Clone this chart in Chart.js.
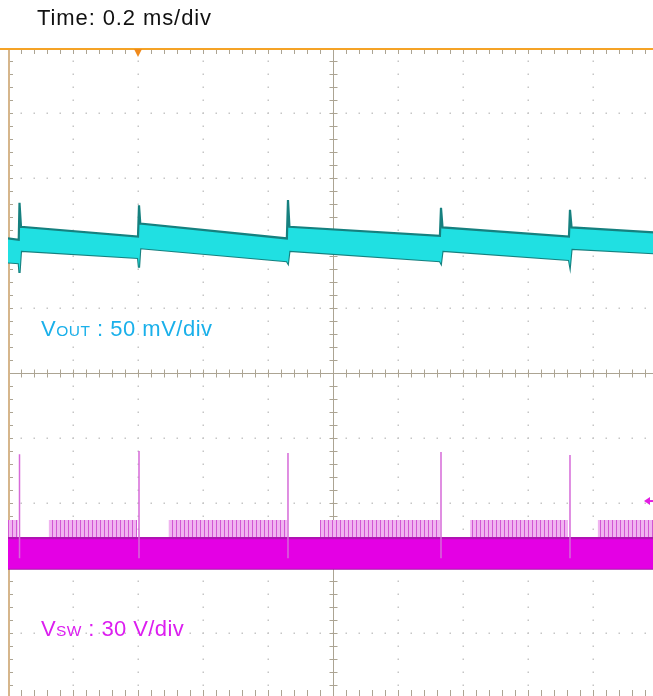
<!DOCTYPE html>
<html><head><meta charset="utf-8">
<script src="https://cdn.jsdelivr.net/npm/chart.js@4.4.1/dist/chart.umd.min.js"></script>
<style>
html,body{margin:0;padding:0;background:#fff;overflow:hidden;width:653px;height:696px;}
#wrap{position:absolute;left:0;top:0;width:658px;height:698px;}
.lbl{position:absolute;font-family:"Liberation Sans",Arial,sans-serif;white-space:nowrap;line-height:1;}
</style></head><body>
<div id="wrap"><canvas id="c" width="658" height="698"></canvas></div>
<div class="lbl" style="left:37px;top:7px;font-size:22px;color:#111;letter-spacing:0.9px;">Time: 0.2 ms/div</div>
<div class="lbl" style="left:41px;top:318px;font-size:22px;color:#1ab0ea;letter-spacing:0.5px;">V<span style="font-size:15.5px">OUT</span> : 50 mV/div</div>
<div class="lbl" style="left:41px;top:618px;font-size:22px;color:#dc1ef0;letter-spacing:0.4px;">V<span style="font-size:15.5px">SW</span> : 30 V/div</div>
<script>
// ---- screen settings (time in ms, vertical in divisions) ----
const timeDivMs = 0.2;
const xDivisions = 10;
const yDivisions = 10;

// ---- switching events (ms) ----
const spikeTimes = [0.0354, 0.4031, 0.8615, 1.3323, 1.7292];

// ---- VOUT trace (divisions) ----
const voutSpikeTop    = [2.62, 2.58, 2.66, 2.54, 2.51];
const voutSpikeBottom = [1.54, 1.62, 1.69, 1.69, 1.65];
const voutSegStart    = [0, 0.040, 0.407, 0.866, 1.337, 1.734];
const voutSegEnd      = [0.033, 0.400, 0.858, 1.329, 1.726, 2.0];
const voutUpperStart  = [2.07, 2.25, 2.30, 2.25, 2.24, 2.24];
const voutUpperEnd    = [2.05, 2.10, 2.07, 2.11, 2.10, 2.16];
const voutLowerStart  = [1.70, 1.88, 1.92, 1.88, 1.88, 1.91];
const voutLowerEnd    = [1.69, 1.77, 1.72, 1.72, 1.74, 1.84];

// ---- VSW trace (divisions) ----
const vswSpikeTop     = [-1.25, -1.20, -1.23, -1.215, -1.26];
const vswSpikeBottom  = [-2.85, -2.85, -2.85, -2.85, -2.85];
const vswBandTop      = [-2.54, -2.54];
const vswBandBottom   = [-3.01, -3.01];
const vswBandTimes    = [0, 2.0];
const pulseStart      = [0, 0.126, 0.495, 0.960, 1.422, 1.815];
const pulseEnd        = [0.031, 0.397, 0.858, 1.329, 1.723, 2.0];
const pulseTop        = -2.26;

// ---- trigger markers ----
const triggerTime = 0.4;
const vswTriggerLevel = -1.97;

// ---- build series ----
const voutUpper = [], voutLower = [];
for (let i = 0; i < voutSegStart.length; i++) {
  voutUpper.push({x: voutSegStart[i], y: voutUpperStart[i]}, {x: voutSegEnd[i], y: voutUpperEnd[i]});
  voutLower.push({x: voutSegStart[i], y: voutLowerStart[i]}, {x: voutSegEnd[i], y: voutLowerEnd[i]});
  if (i < spikeTimes.length) {
    voutUpper.push({x: spikeTimes[i], y: voutSpikeTop[i]});
    voutLower.push({x: spikeTimes[i], y: voutSpikeBottom[i]});
  }
}
const pulseData = [];
for (let i = 0; i < pulseStart.length; i++) {
  pulseData.push({x: pulseStart[i], y: vswBandTop[0]}, {x: pulseStart[i], y: pulseTop},
                 {x: pulseEnd[i], y: pulseTop}, {x: pulseEnd[i], y: vswBandTop[0]});
}
const vswSpikes = [];
for (let i = 0; i < spikeTimes.length; i++) {
  vswSpikes.push({x: spikeTimes[i], y: vswSpikeBottom[i]}, {x: spikeTimes[i], y: vswSpikeTop[i]}, {x: spikeTimes[i], y: null});
}
const vswUpper = vswBandTimes.map((t, i) => ({x: t, y: vswBandTop[i]}));
const vswLower = vswBandTimes.map((t, i) => ({x: t, y: vswBandBottom[i]}));

// stripe pattern for the pink pulse region
const pc = document.createElement('canvas'); pc.width = 4; pc.height = 2;
const pctx = pc.getContext('2d');
pctx.fillStyle = '#f0b4f0'; pctx.fillRect(0, 0, 4, 2);
pctx.fillStyle = '#d257d4'; pctx.fillRect(0, 0, 1, 2);
const ctxTmp = document.getElementById('c').getContext('2d');
const pulsePattern = ctxTmp.createPattern(pc, 'repeat');

const graticule = {
  id: 'graticule',
  beforeDatasetsDraw(chart) {
    const {ctx, chartArea: a, scales: {x, y}} = chart;
    ctx.save();
    const half = xDivisions / 2, yhalf = yDivisions / 2;
    ctx.fillStyle = '#c6c6c6';
    for (let k = 1; k < xDivisions; k++) {
      if (k === half) continue;
      const px = Math.round(x.getPixelForValue(k * timeDivMs));
      for (let j = 1; j < yDivisions * 5; j++) {
        const py = Math.round(y.getPixelForValue(yhalf - j * 0.2));
        ctx.fillRect(px - 0.5, py - 0.5, 1.5, 1.5);
      }
    }
    for (let k = 1; k < yDivisions; k++) {
      if (k === yhalf) continue;
      const py = Math.round(y.getPixelForValue(yhalf - k));
      for (let j = 1; j < xDivisions * 5; j++) {
        const px = Math.round(x.getPixelForValue(j * timeDivMs / 5));
        ctx.fillRect(px - 0.5, py - 0.5, 1.5, 1.5);
      }
    }
    ctx.strokeStyle = '#aca493'; ctx.lineWidth = 1;
    const cx = Math.round(x.getPixelForValue(half * timeDivMs)) + 0.5;
    const cy = Math.round(y.getPixelForValue(0)) + 0.5;
    ctx.beginPath();
    ctx.moveTo(cx, a.top); ctx.lineTo(cx, a.bottom);
    ctx.moveTo(a.left, cy); ctx.lineTo(a.right, cy);
    for (let j = 1; j < yDivisions * 5; j++) {
      const py = Math.round(y.getPixelForValue(yhalf - j * 0.2)) + 0.5;
      ctx.moveTo(cx - 4, py); ctx.lineTo(cx + 4, py);
      ctx.moveTo(a.left, py); ctx.lineTo(a.left + 5, py);
    }
    for (let j = 1; j < xDivisions * 5; j++) {
      const px = Math.round(x.getPixelForValue(j * timeDivMs / 5)) + 0.5;
      ctx.moveTo(px, cy - 4); ctx.lineTo(px, cy + 4);
      ctx.moveTo(px, a.top + 1); ctx.lineTo(px, a.top + 6);
      ctx.moveTo(px, a.bottom - 8); ctx.lineTo(px, a.bottom);
    }
    ctx.stroke();
    ctx.strokeStyle = '#d6b68c'; ctx.lineWidth = 2;
    ctx.beginPath(); ctx.moveTo(a.left + 1, a.top); ctx.lineTo(a.left + 1, a.bottom); ctx.stroke();
    ctx.restore();
  },
  afterDatasetsDraw(chart) {
    const {ctx, chartArea: a, scales: {x, y}} = chart;
    ctx.save();
    ctx.strokeStyle = '#f5a326'; ctx.lineWidth = 2;
    ctx.beginPath(); ctx.moveTo(0, a.top + 1); ctx.lineTo(a.right, a.top + 1); ctx.stroke();
    const tx = x.getPixelForValue(triggerTime);
    ctx.fillStyle = '#f08a1c';
    ctx.beginPath(); ctx.moveTo(tx - 4, a.top + 1); ctx.lineTo(tx + 4, a.top + 1); ctx.lineTo(tx, a.top + 9); ctx.closePath(); ctx.fill();
    const ty = y.getPixelForValue(vswTriggerLevel);
    ctx.fillStyle = '#e21ee2'; ctx.strokeStyle = '#e21ee2'; ctx.lineWidth = 2;
    ctx.beginPath(); ctx.moveTo(644, ty); ctx.lineTo(650, ty - 4); ctx.lineTo(650, ty + 4); ctx.closePath(); ctx.fill();
    ctx.beginPath(); ctx.moveTo(648, ty); ctx.lineTo(a.right, ty); ctx.stroke();
    ctx.restore();
  }
};

new Chart(document.getElementById('c'), {
  type: 'line',
  data: {
    datasets: [
      {label: 'VOUT upper', data: voutUpper, borderColor: '#16807f', borderWidth: 2.2,
       backgroundColor: '#20e0e2', fill: '+1', pointRadius: 0, tension: 0, order: 1},
      {label: 'VOUT lower', data: voutLower, borderColor: '#16807f', borderWidth: 2.2,
       fill: false, pointRadius: 0, tension: 0, order: 1},
      {label: 'VSW spikes', data: vswSpikes, borderColor: '#d66ad8', borderWidth: 1.5,
       fill: false, pointRadius: 0, spanGaps: false, order: 0},
      {label: 'VSW upper', data: vswUpper, borderColor: '#b012b2', borderWidth: 2.2,
       backgroundColor: '#e400e4', fill: '+1', pointRadius: 0, order: 2},
      {label: 'VSW lower', data: vswLower, borderColor: '#a814aa', borderWidth: 2.2,
       fill: false, pointRadius: 0, order: 2},
      {label: 'VSW pulses', data: pulseData, borderWidth: 0, borderColor: 'rgba(0,0,0,0)',
       backgroundColor: pulsePattern, fill: {value: -2.6}, pointRadius: 0, tension: 0, order: 3}
    ]
  },
  options: {
    responsive: false, animation: false, devicePixelRatio: 1,
    layout: {padding: {left: 8, top: 48, right: 0, bottom: 0}},
    plugins: {legend: {display: false}, tooltip: {enabled: false}},
    scales: {
      x: {type: 'linear', min: 0, max: xDivisions * timeDivMs, display: false},
      y: {type: 'linear', min: -yDivisions / 2, max: yDivisions / 2, display: false}
    }
  },
  plugins: [graticule]
});
</script>
</body></html>
